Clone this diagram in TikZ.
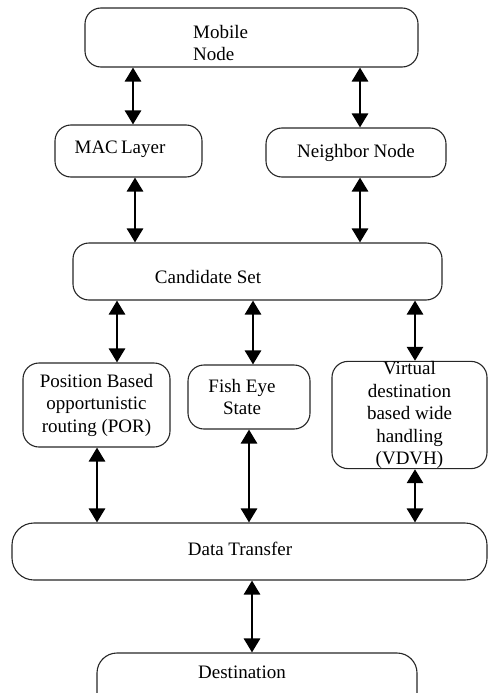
\documentclass[tikz,border=0pt]{standalone}
\usepackage{fontspec}
\setmainfont{Liberation Serif}
\usetikzlibrary{arrows.meta}

\tikzset{
  box/.style={draw=black!85, line width=1.1pt, rounded corners=16pt, inner sep=0pt, align=center},
  lbl/.style={inner sep=0pt, align=center},
  link/.style={line width=2.8pt, {Triangle[width=16pt,length=14pt]}-{Triangle[width=16pt,length=14pt]}},
}

\begin{document}
\begin{tikzpicture}[x=1pt, y=-1pt, font=\fontsize{19}{22.5}\selectfont]
\useasboundingbox (0,0) rectangle (488,693);
\clip (0,0) rectangle (488,693);

% --- top level ---
\node[box, minimum width=333pt, minimum height=59pt] (mob) at (251.5,37.5) {};
\node[lbl, anchor=west, align=left] (mobtxt) at (193,43) {Mobile\\Node};

% --- second level ---
\node[box, minimum width=147pt, minimum height=52pt] (mac) at (128.5,151) {};
\node[lbl] (mactxt) at (120,149) {MAC\,Layer};
\node[box, minimum width=180pt, minimum height=49pt] (nbr) at (356,152.5) {Neighbor Node};

% --- candidate set ---
\node[box, minimum width=369pt, minimum height=57pt] (cand) at (257.5,271.5) {};
\node[lbl] (candtxt) at (208,277) {Candidate Set};

% --- third level ---
\node[box, minimum width=147pt, minimum height=84pt] (por) at (96.5,405)
  {Position Based\\opportunistic\\routing (POR)};
\node[box, minimum width=122pt, minimum height=64pt] (fish) at (249,397)
  {\hspace*{-14pt}Fish Eye\\\hspace*{-14pt}State};
\node[box, minimum width=155pt, minimum height=106pt] (vdvh) at (409.5,415)
  {Virtual\\destination\\based wide\\handling\\(VDVH)};

% --- data transfer and destination ---
\node[box, rounded corners=22pt, minimum width=475pt, minimum height=57pt] (dt) at (249.5,551.5) {};
\node[lbl] (dttxt) at (240,549) {Data Transfer};
\node[box, rounded corners=20pt, minimum width=320pt, minimum height=60pt] (dest) at (257,683) {};
\node[lbl] (desttxt) at (242,672) {Destination};

% --- connectors ---
\draw[link] (133,0 |- mob.south) -- (133,0 |- mac.north);
\draw[link] (360,0 |- mob.south) -- (360,0 |- nbr.north);
\draw[link] (135,0 |- mac.south) -- (135,0 |- cand.north);
\draw[link] (360,0 |- nbr.south) -- (360,0 |- cand.north);
\draw[link] (117,0 |- cand.south) -- (117,0 |- por.north);
\draw[link] (253,0 |- cand.south) -- (253,0 |- fish.north);
\draw[link] (415,0 |- cand.south) -- (415,0 |- vdvh.north);
\draw[link] (97,0 |- por.south) -- (97,0 |- dt.north);
\draw[link] (249,0 |- fish.south) -- (249,0 |- dt.north);
\draw[link] (415,0 |- vdvh.south) -- (415,0 |- dt.north);
\draw[link] (252,0 |- dt.south) -- (252,0 |- dest.north);
\end{tikzpicture}
\end{document}
